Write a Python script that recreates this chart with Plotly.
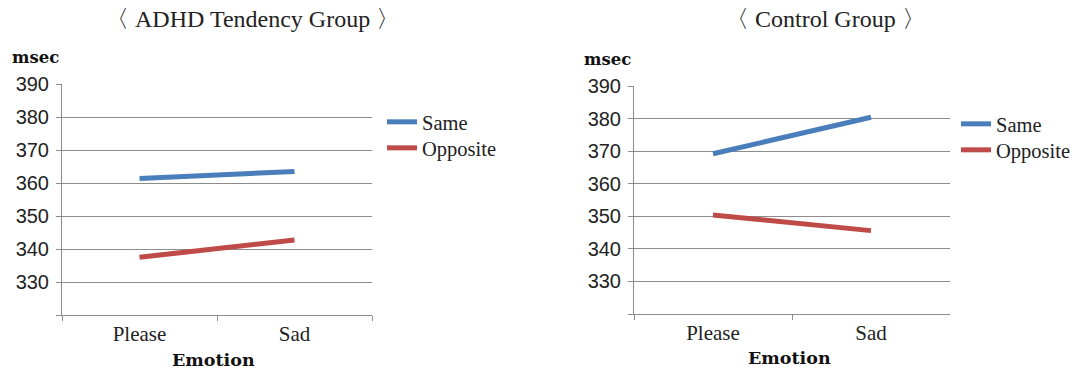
import plotly.graph_objects as go

emotions = ["Please", "Sad"]
adhd_same = [361.4, 363.5]
adhd_opposite = [337.5, 342.7]
control_same = [369.2, 380.4]
control_opposite = [350.4, 345.6]
y_ticks = [320, 330, 340, 350, 360, 370, 380, 390]
y_ticktext = ["", "330", "340", "350", "360", "370", "380", "390"]

BLUE = "#4A7EBB"
RED = "#BE4B48"
GRID = "#8C8C8C"
SERIF = "Liberation Serif"
BSERIF = "DejaVu Serif"
SANS = "Liberation Sans"

W, H = 1092, 375

def xd(a, b):
    return [a / W, b / W]

def yd(top, bottom):
    return [1 - bottom / H, 1 - top / H]

fig = go.Figure()
fig.add_trace(go.Scatter(x=emotions, y=adhd_same, name="Same", mode="lines", showlegend=True,
                         line=dict(color=BLUE, width=5), xaxis="x", yaxis="y", legend="legend"))
fig.add_trace(go.Scatter(x=emotions, y=adhd_opposite, name="Opposite", mode="lines", showlegend=True,
                         line=dict(color=RED, width=5), xaxis="x", yaxis="y", legend="legend2"))
fig.add_trace(go.Scatter(x=emotions, y=control_same, name="Same", mode="lines", showlegend=True,
                         line=dict(color=BLUE, width=5), xaxis="x2", yaxis="y2", legend="legend3"))
fig.add_trace(go.Scatter(x=emotions, y=control_opposite, name="Opposite", mode="lines", showlegend=True,
                         line=dict(color=RED, width=5), xaxis="x2", yaxis="y2", legend="legend4"))

xcommon = dict(type="category", range=[-0.5, 1.5], tickson="boundaries", ticks="outside",
               ticklen=5, tickcolor=GRID, showline=True, linecolor=GRID, linewidth=1,
               showgrid=False, zeroline=False, fixedrange=True, automargin=False,
               tickfont=dict(family=SERIF, size=21, color="#222222"))
ycommon = dict(range=[320, 390], tickvals=y_ticks, ticktext=y_ticktext, ticks="outside",
               ticklen=5, tickcolor=GRID, showline=True, linecolor=GRID, linewidth=1,
               showgrid=True, gridcolor=GRID, gridwidth=1, zeroline=False, fixedrange=True,
               automargin=False, ticklabelstandoff=3,
               tickfont=dict(family=SANS, size=20, color="#222222"))

def leg(x, top):
    return dict(x=x / W, y=1 - top / H, xanchor="left", yanchor="top",
                font=dict(family=SERIF, size=20.5, color="#222222"),
                bgcolor="rgba(0,0,0,0)", itemwidth=30)

fig.update_layout(
    width=W, height=H,
    showlegend=True,
    margin=dict(l=0, r=0, t=0, b=0, autoexpand=False),
    paper_bgcolor="white", plot_bgcolor="white",
    xaxis=dict(domain=xd(62, 372), anchor="y", **xcommon),
    yaxis=dict(domain=yd(84, 315), anchor="x", **ycommon),
    xaxis2=dict(domain=xd(634, 950), anchor="y2", **xcommon),
    yaxis2=dict(domain=yd(86, 314), anchor="x2", **ycommon),
    legend=leg(382, 102),
    legend2=leg(382, 128),
    legend3=leg(956, 104),
    legend4=leg(956, 130),
    annotations=[
        dict(text="〈 ADHD Tendency Group 〉", x=252 / W, y=1 - 19 / H, xref="paper", yref="paper",
             showarrow=False, xanchor="center", yanchor="middle",
             font=dict(family=SERIF, size=24, color="#222222")),
        dict(text="〈 Control Group 〉", x=825 / W, y=1 - 19 / H, xref="paper", yref="paper",
             showarrow=False, xanchor="center", yanchor="middle",
             font=dict(family=SERIF, size=24, color="#222222")),
        dict(text="msec", x=10 / W, y=1 - 57 / H, xref="paper", yref="paper",
             showarrow=False, xanchor="left", yanchor="middle",
             font=dict(family=BSERIF, size=16.5, color="#111111", weight="bold")),
        dict(text="msec", x=582 / W, y=1 - 59 / H, xref="paper", yref="paper",
             showarrow=False, xanchor="left", yanchor="middle",
             font=dict(family=BSERIF, size=16.5, color="#111111", weight="bold")),
        dict(text="Emotion", x=213 / W, y=1 - 360 / H, xref="paper", yref="paper",
             showarrow=False, xanchor="center", yanchor="middle",
             font=dict(family=BSERIF, size=17.5, color="#111111", weight="bold")),
        dict(text="Emotion", x=789 / W, y=1 - 358 / H, xref="paper", yref="paper",
             showarrow=False, xanchor="center", yanchor="middle",
             font=dict(family=BSERIF, size=17.5, color="#111111", weight="bold")),
    ],
)

fig.write_html("out.html")
